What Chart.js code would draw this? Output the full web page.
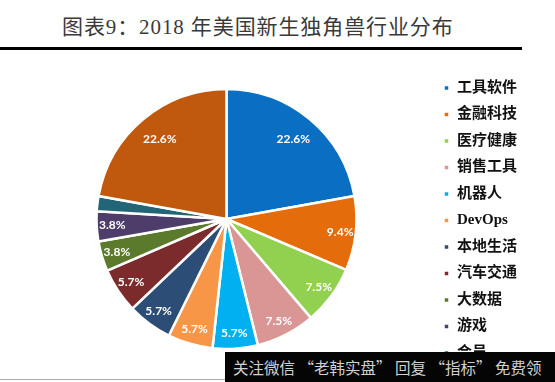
<!DOCTYPE html>
<html>
<head>
<meta charset="utf-8">
<script src="https://cdn.jsdelivr.net/npm/chart.js@4.4.1/dist/chart.umd.min.js"></script>
<style>
  html, body { margin:0; padding:0; width:555px; height:382px; overflow:hidden; background:#fff; }
  #title { position:absolute; left:62px; top:10px; font-family:"Liberation Serif","Noto Sans CJK SC",serif; font-size:21px; color:#3a3a3a; white-space:nowrap; letter-spacing:0.9px; }
  #rule { position:absolute; left:0; top:47px; width:522px; height:3px; background:#000; }
  #wrap { position:absolute; left:0; top:0; width:555px; height:405px; }
  #wm { position:absolute; left:225px; top:352px; width:330px; height:30px; background:#050505; color:#d0d0d0; font-family:"Noto Sans CJK SC",sans-serif; font-size:15.5px; line-height:30px; padding-left:8px; box-sizing:border-box; white-space:nowrap; }
  #bl { position:absolute; left:0; top:379px; width:225px; height:1px; background:#aaa; }
</style>
</head>
<body>
<div id="title">图表9：2018 年美国新生独角兽行业分布</div>
<div id="rule"></div>
<div id="wrap"><canvas id="c" width="555" height="405"></canvas></div>
<div id="bl"></div>
<div id="wm">关注微信 “老韩实盘” 回复 “指标” 免费领</div>
<script>
const categories = ["工具软件","金融科技","医疗健康","销售工具","机器人","DevOps","本地生活","汽车交通","大数据","游戏","会员","其他"];
const shares = [22.6, 9.4, 7.5, 7.5, 5.7, 5.7, 5.7, 5.7, 3.8, 3.8, 1.9, 22.6];
const colors = ["#0a6fc2","#e46c0a","#92d050","#d99694","#00b0f0","#f79646","#2c4d75","#7b2b2b","#5b7a2c","#4e3d6b","#216576","#c0590e"];

const labelPlugin = {
  id: 'sliceLabels',
  afterDatasetsDraw(chart) {
    const ctx = chart.ctx;
    const meta = chart.getDatasetMeta(0);
    const ds = chart.data.datasets[0].data;
    const total = ds.reduce((a,b)=>a+b,0);
    ctx.save();
    ctx.fillStyle = '#ffffff';
    ctx.font = 'bold 12px Lato, "Open Sans", sans-serif';
    ctx.textAlign = 'center';
    ctx.textBaseline = 'middle';
    meta.data.forEach((arc, i) => {
      const v = ds[i];
      if (v < 2) return;
      const p = arc.getProps(['x','y','startAngle','endAngle','outerRadius'], true);
      const mid = (p.startAngle + p.endAngle) / 2;
      const f = (v / total) > 0.15 ? 0.8 : 0.88;
      const x = p.x + Math.cos(mid) * p.outerRadius * f;
      const y = p.y + Math.sin(mid) * p.outerRadius * f;
      ctx.fillText(v.toFixed(1) + '%', x, y);
    });
    ctx.restore();
  }
};

new Chart(document.getElementById('c'), {
  type: 'pie',
  data: {
    labels: categories,
    datasets: [{
      data: shares,
      backgroundColor: colors,
      borderColor: '#ffffff',
      borderWidth: 2.5,
      radius: 130
    }]
  },
  options: {
    responsive: false,
    animation: false,
    events: [],
    layout: { padding: { top: 33, bottom: 0, left: 21, right: 28 } },
    plugins: {
      tooltip: { enabled: false },
      legend: {
        position: 'right',
        align: 'start',
        maxWidth: 100,
        title: { display: true, text: ' ', font: { size: 10, lineHeight: 1.2 }, padding: { top: 24, bottom: 0 } },
        labels: {
          boxWidth: 6,
          boxHeight: 6,
          padding: 11.5,
          color: '#111',
          font: { family: '"Liberation Serif","Noto Sans CJK SC",serif', size: 15, weight: 'bold' }
        }
      }
    }
  },
  plugins: [labelPlugin]
});
</script>
</body>
</html>
